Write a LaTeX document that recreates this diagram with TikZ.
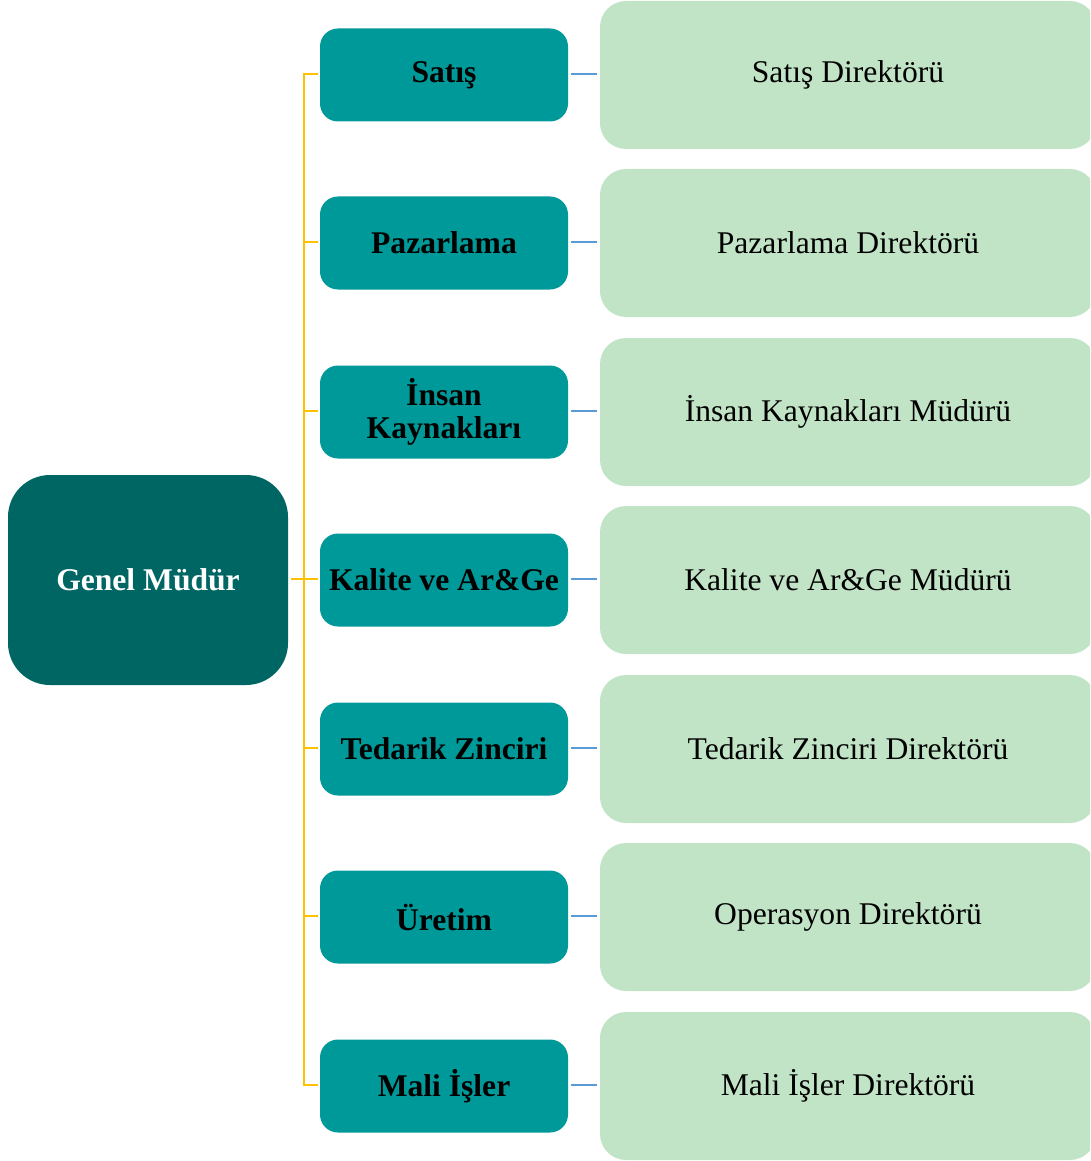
\documentclass[tikz,border=0pt]{standalone}
\usepackage{fontspec}
\setmainfont{Liberation Serif}
\definecolor{gmteal}{HTML}{006663}
\definecolor{midteal}{HTML}{009999}
\definecolor{lightgreen}{HTML}{C2E4C6}
\definecolor{spine}{HTML}{FFC000}
\definecolor{link}{HTML}{5B9BD5}
\begin{document}
\begin{tikzpicture}[x=1pt,y=-1pt,
  gmbox/.style={fill=gmteal, rounded corners=42pt, minimum width=280pt, minimum height=210pt,
    inner sep=0pt, outer sep=0pt, text=white, font=\fontsize{31.6}{34}\selectfont\bfseries},
  midbox/.style={fill=midteal, rounded corners=18pt, minimum width=248pt, minimum height=93pt,
    inner sep=0pt, outer sep=0pt, text=black, align=center, font=\fontsize{31.6}{33}\selectfont\bfseries},
  rightbox/.style={fill=lightgreen, rounded corners=26pt, minimum width=496pt, minimum height=148pt,
    inner sep=0pt, outer sep=0pt, text=black, font=\fontsize{31.6}{34}\selectfont},
  spineline/.style={draw=spine, line width=2.8pt},
  linkline/.style={draw=link, line width=2.8pt, shorten <=3pt, shorten >=3pt}]
\useasboundingbox (0,0) rectangle (1090,1161);
\begin{scope}
\clip (0,0) rectangle (1090,1161);
\node[gmbox] (gm) at (148,580) {Genel Müdür};

\foreach \i/\y/\mt/\rt in {
  1/74/{Satış}/{Satış Direktörü},
  2/242/{Pazarlama}/{Pazarlama Direktörü},
  3/411/{İnsan\\Kaynakları}/{İnsan Kaynakları Müdürü},
  4/579/{Kalite ve Ar\&Ge}/{Kalite ve Ar\&Ge Müdürü},
  5/748/{Tedarik Zinciri}/{Tedarik Zinciri Direktörü},
  6/916/{Üretim}/{Operasyon Direktörü},
  7/1085/{Mali İşler}/{Mali İşler Direktörü}} {
  \node[midbox] (m\i) at (444,\y+1) {\mt};
  \node[rightbox] (r\i) at (848,\y+1) {\rt};
  \coordinate (s\i) at (304,\y);
  \draw[linkline] (m\i.east |- s\i) -- (r\i.west |- s\i);
  \draw[spineline, shorten >=2pt] (s\i) -- (m\i.west |- s\i);
}
\coordinate (sgm) at (304,579);
\draw[spineline, line cap=rect] (s1) -- (s7);
\draw[spineline, shorten <=3pt] (gm.east |- sgm) -- (sgm);
\end{scope}
\end{tikzpicture}
\end{document}
